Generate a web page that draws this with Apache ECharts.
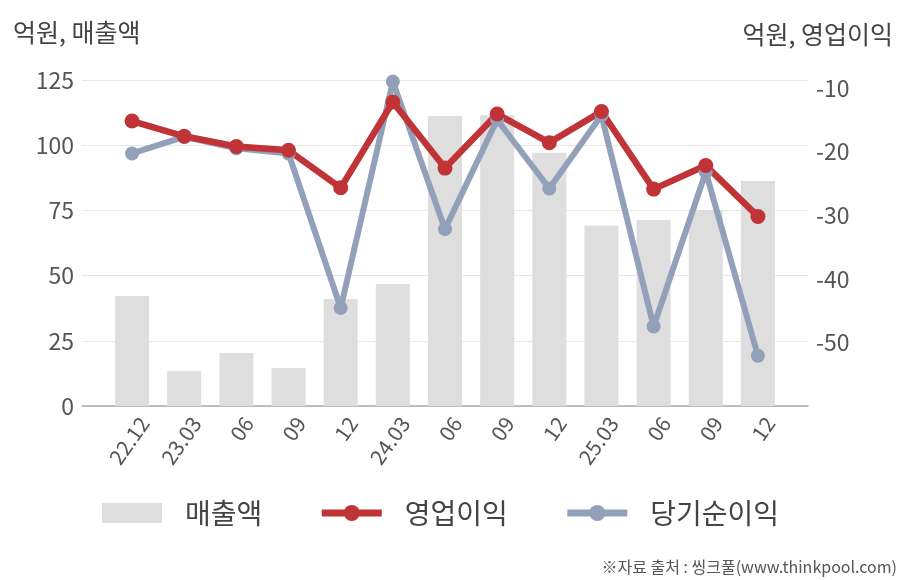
<!DOCTYPE html>
<html>
<head>
<meta charset="utf-8">
<script src="https://cdn.jsdelivr.net/npm/echarts@6/dist/echarts.min.js"></script>
<style>
  html, body { margin: 0; padding: 0; background: #fff; }
  #main { width: 908px; height: 580px; }
</style>
</head>
<body>
<div id="main"></div>
<script>
// 분기 라벨
const categories = ['22.12', '23.03', '06', '09', '12', '24.03', '06', '09', '12', '25.03', '06', '09', '12']
// 매출액 (억원, 왼쪽 축)
const sales = [42.2, 13.4, 20.3, 14.6, 41.0, 46.8, 111.2, 111.5, 97.1, 69.1, 71.3, 75.2, 86.3]
// 영업이익 (억원, 오른쪽 축)
const operatingProfit = [-15.2, -17.6, -19.2, -19.8, -25.7, -12.2, -22.6, -14.1, -18.6, -13.7, -25.9, -22.2, -30.2]
// 당기순이익 (억원, 오른쪽 축)
const netProfit = [-20.3, -17.7, -19.5, -20.3, -44.6, -9.0, -32.2, -15.0, -25.8, -14.3, -47.5, -23.2, -52.1]

const leftMin = 0, leftMax = 125, leftStep = 25
const rightMin = -60, rightMax = -8.75, rightStep = 10

const font = "'Noto Sans CJK KR', 'Noto Sans', sans-serif"
const labelColor = '#555'

let myChart = echarts.init(document.getElementById('main'))

const option = {
  animation: false,
  textStyle: { fontFamily: font },
  title: [
    { text: '억원, 매출액', left: 8, top: 15, textStyle: { fontSize: 25, fontWeight: 'normal', color: '#444', fontFamily: font } },
    { text: '억원, 영업이익', right: 10, top: 17, textStyle: { fontSize: 25, fontWeight: 'normal', color: '#444', fontFamily: font } },
    { text: '※자료 출처 : 씽크풀(www.thinkpool.com)', right: 6, top: 554, textStyle: { fontSize: 16, fontWeight: 'normal', color: '#555', fontFamily: font } }
  ],
  legend: {
    data: [
      { name: '매출액', icon: 'rect' },
      { name: '영업이익' },
      { name: '당기순이익' }
    ],
    left: 97,
    top: 494,
    itemWidth: 60,
    itemHeight: 20,
    itemGap: 56,
    lineStyle: { width: 7 },
    textStyle: { fontSize: 28, color: '#444', padding: [0, 0, 0, 18], fontFamily: font }
  },
  // grid 0: 축선과 격자선, grid 1: 실제 데이터, grid 2: x축 라벨
  grid: [
    { left: 82, right: 100, top: 80, bottom: 174 },
    { left: 106, right: 124, top: 80, bottom: 174 },
    { left: 118, right: 112, top: 80, bottom: 174 }
  ],
  xAxis: [
    {
      type: 'value', gridIndex: 0, min: 0, max: 1,
      axisLine: { show: true, onZero: false, lineStyle: { color: '#aaa', width: 1.5 } },
      axisTick: { show: false }, axisLabel: { show: false }, splitLine: { show: false }
    },
    {
      type: 'category', gridIndex: 1, data: categories,
      axisLine: { show: false }, axisTick: { show: false }, axisLabel: { show: false }
    },
    {
      type: 'category', gridIndex: 2, data: categories,
      axisLine: { show: false }, axisTick: { show: false },
      axisLabel: { rotate: 55, fontSize: 21, color: labelColor, margin: 13, interval: 0, fontFamily: font }
    }
  ],
  yAxis: [
    {
      type: 'value', gridIndex: 0, position: 'left', min: leftMin, max: leftMax, interval: leftStep,
      axisLine: { show: false }, axisTick: { show: false },
      axisLabel: { fontSize: 23, color: labelColor, margin: 8, fontFamily: font },
      splitLine: { lineStyle: { color: '#e8e8e8', width: 1 } }
    },
    {
      type: 'value', gridIndex: 0, position: 'right', min: rightMin, max: rightMax, interval: rightStep,
      axisLine: { show: false }, axisTick: { show: false },
      axisLabel: { fontSize: 23, color: labelColor, margin: 8, showMinLabel: false, showMaxLabel: false, fontFamily: font },
      splitLine: { show: false }
    },
    { type: 'value', gridIndex: 1, min: leftMin, max: leftMax, show: false },
    { type: 'value', gridIndex: 1, min: rightMin, max: rightMax, show: false },
    { type: 'value', gridIndex: 2, min: 0, max: 1, show: false }
  ],
  series: [
    {
      name: '매출액', type: 'bar', xAxisIndex: 1, yAxisIndex: 2,
      data: sales, barWidth: 34,
      itemStyle: { color: '#dedede' }
    },
    {
      name: '당기순이익', type: 'line', xAxisIndex: 1, yAxisIndex: 3,
      data: netProfit, symbol: 'circle', symbolSize: 14,
      lineStyle: { color: '#93a0ba', width: 6 },
      itemStyle: { color: '#93a0ba' }
    },
    {
      name: '영업이익', type: 'line', xAxisIndex: 1, yAxisIndex: 3,
      data: operatingProfit, symbol: 'circle', symbolSize: 15,
      lineStyle: { color: '#c03438', width: 6.5 },
      itemStyle: { color: '#c03438' }
    }
  ]
}

myChart.setOption(option)
</script>
</body>
</html>
